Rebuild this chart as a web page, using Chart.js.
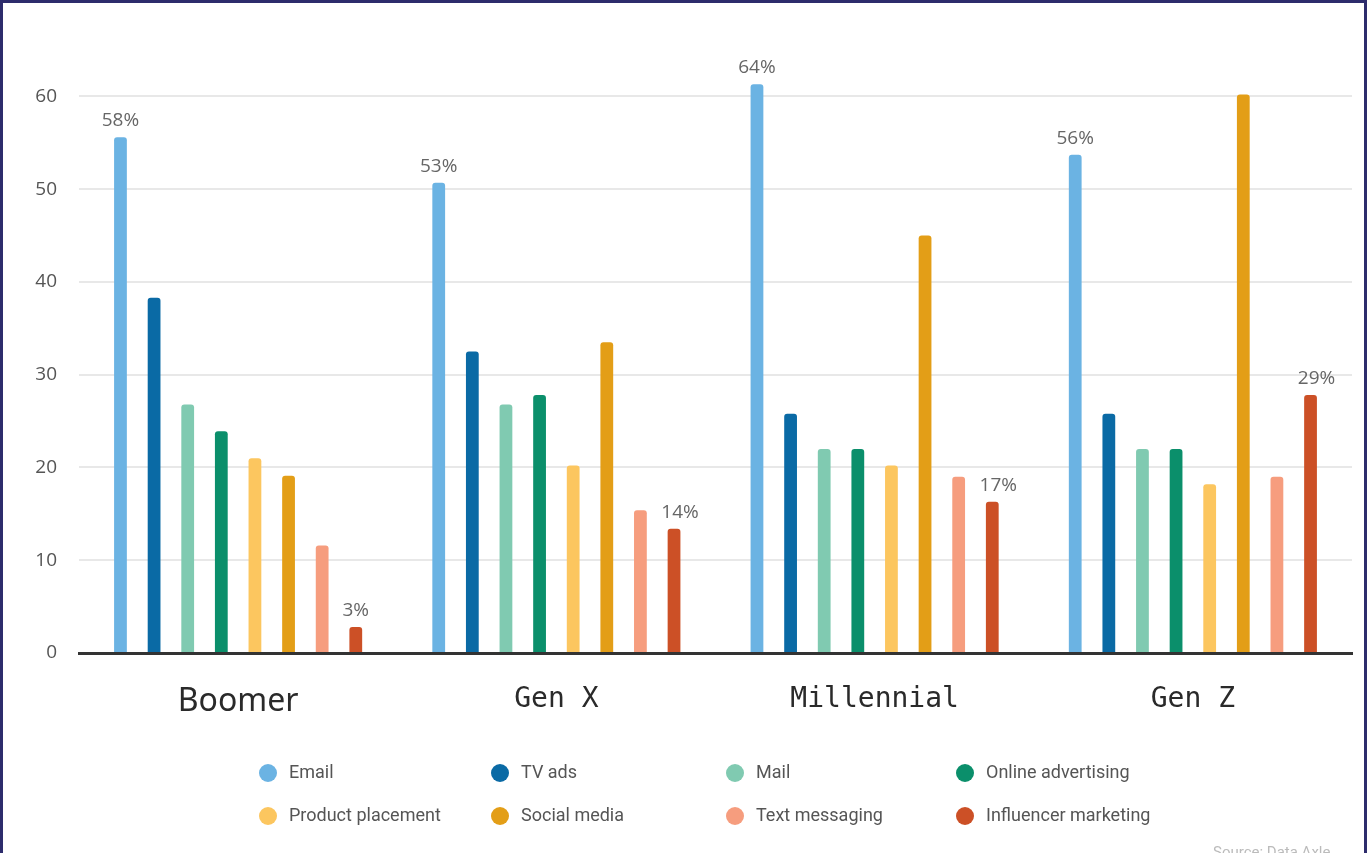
<!DOCTYPE html>
<html lang="en">
<head>
  <meta charset="UTF-8">
  <title>Marketing channels by generation</title>
  <script src="https://cdn.jsdelivr.net/npm/chart.js"></script>
  <style>
    html, body { margin:0; padding:0; background:#fff; overflow:hidden; }
    .frame {
      width:1367px; height:853px; box-sizing:border-box;
      border:3px solid #2d2c6c; border-bottom:none; background:#fff;
    }
    .frame canvas { display:block; }
  </style>
</head>
<body>
  <div class="frame">
    <canvas id="chart" width="1361" height="850"></canvas>
  </div>
  <script>
    const generations = ["Boomer", "Gen X", "Millennial", "Gen Z"];
    const channels = ["Email", "TV ads", "Mail", "Online advertising",
                      "Product placement", "Social media", "Text messaging", "Influencer marketing"];
    const colors = ["#6bb3e3", "#0a6aa5", "#80cab1", "#0b8f6b",
                    "#fcc65f", "#e39e17", "#f69d7e", "#cc5026"];
    // one array per channel, values per generation
    const email      = [55.6, 50.7, 61.3, 53.7];
    const tvAds      = [38.3, 32.5, 25.8, 25.8];
    const mail       = [26.8, 26.8, 22.0, 22.0];
    const onlineAds  = [23.9, 27.8, 22.0, 22.0];
    const placement  = [21.0, 20.2, 20.2, 18.2];
    const social     = [19.1, 33.5, 45.0, 60.2];
    const texting    = [11.6, 15.4, 19.0, 19.0];
    const influencer = [2.8, 13.4, 16.3, 27.8];
    // printed labels, as they appear on the chart
    const emailLabels      = ["58%", "53%", "64%", "56%"];
    const influencerLabels = ["3%", "14%", "17%", "29%"];
    const yTicks = [0, 10, 20, 30, 40, 50, 60];

    const series = [email, tvAds, mail, onlineAds, placement, social, texting, influencer];
    const barLabels = [emailLabels, null, null, null, null, null, null, influencerLabels];

    // pick a narrow face for "Boomer" if one is installed
    const probe = document.createElement('canvas').getContext('2d');
    probe.font = '38px "Liberation Sans Narrow", monospace';
    const wNarrow = probe.measureText('Boomer').width;
    probe.font = '38px monospace';
    const hasNarrow = Math.abs(wNarrow - probe.measureText('Boomer').width) > 1;
    const boomerFont = hasNarrow
      ? { family: '"Liberation Sans Narrow", sans-serif', size: 38 }
      : { family: '"Noto Sans", sans-serif', size: 32 };

    const valueLabels = {
      id: 'valueLabels',
      afterDatasetsDraw(chart) {
        const ctx = chart.ctx;
        ctx.save();
        ctx.font = '19px "Open Sans", "Noto Sans", sans-serif';
        ctx.fillStyle = '#666';
        ctx.textAlign = 'center';
        ctx.textBaseline = 'bottom';
        chart.data.datasets.forEach((ds, i) => {
          const labels = barLabels[i];
          if (!labels) return;
          chart.getDatasetMeta(i).data.forEach((bar, j) => {
            const dx = i === 7 && j > 0 ? 6 : 0;
            ctx.fillText(labels[j], bar.x + dx, bar.y - 7);
          });
        });
        ctx.restore();
      }
    };

    // legend in a fixed 4-column grid below the chart
    const gridLegend = {
      id: 'gridLegend',
      afterDraw(chart) {
        const ctx = chart.ctx;
        const colX = [265, 497, 732, 962];
        const rowY = [770, 813];
        ctx.save();
        ctx.font = '18px Roboto, "Noto Sans", sans-serif';
        ctx.textBaseline = 'middle';
        ctx.textAlign = 'left';
        chart.data.datasets.forEach((ds, i) => {
          const x = colX[i % 4], y = rowY[Math.floor(i / 4)];
          ctx.fillStyle = ds.backgroundColor;
          ctx.beginPath();
          ctx.arc(x, y, 9, 0, Math.PI * 2);
          ctx.fill();
          ctx.fillStyle = '#555';
          ctx.fillText(ds.label, x + 21, y);
        });
        ctx.fillStyle = '#bbb';
        ctx.font = '15px Roboto, "Noto Sans", sans-serif';
        ctx.textBaseline = 'top';
        ctx.fillText('Source: Data Axle', 1210, 843);
        ctx.restore();
      }
    };

    new Chart(document.getElementById('chart'), {
      type: 'bar',
      data: {
        labels: generations,
        datasets: channels.map((name, i) => ({
          label: name,
          data: series[i],
          backgroundColor: colors[i],
          borderRadius: { topLeft: 3, topRight: 3 },
          borderSkipped: 'bottom',
          categoryPercentage: 0.845,
          barPercentage: 0.38
        }))
      },
      options: {
        responsive: false,
        animation: false,
        layout: { padding: { top: 47, right: 12, bottom: 120, left: 0 } },
        plugins: { legend: { display: false }, tooltip: { enabled: false } },
        scales: {
          x: {
            grid: { display: false, drawTicks: false },
            border: { display: true, color: '#333', width: 3 },
            afterFit(scale) { scale.height = 80; },
            ticks: {
              padding: 30,
              color: '#2a2a2a',
              font: (c) => c.index === 0
                ? boomerFont
                : { family: '"DejaVu Sans Mono", monospace', size: 28 }
            }
          },
          y: {
            min: 0,
            max: 65,
            afterBuildTicks(scale) { scale.ticks = yTicks.map(v => ({ value: v })); },
            afterFit(scale) { scale.width = 76; },
            grid: { color: '#e8e8e8', lineWidth: 2, drawTicks: false },
            border: { display: false },
            ticks: {
              padding: 22,
              color: '#555',
              font: { family: '"Open Sans", "Noto Sans", sans-serif', size: 19 }
            }
          }
        }
      },
      plugins: [valueLabels, gridLegend]
    });
  </script>
</body>
</html>
